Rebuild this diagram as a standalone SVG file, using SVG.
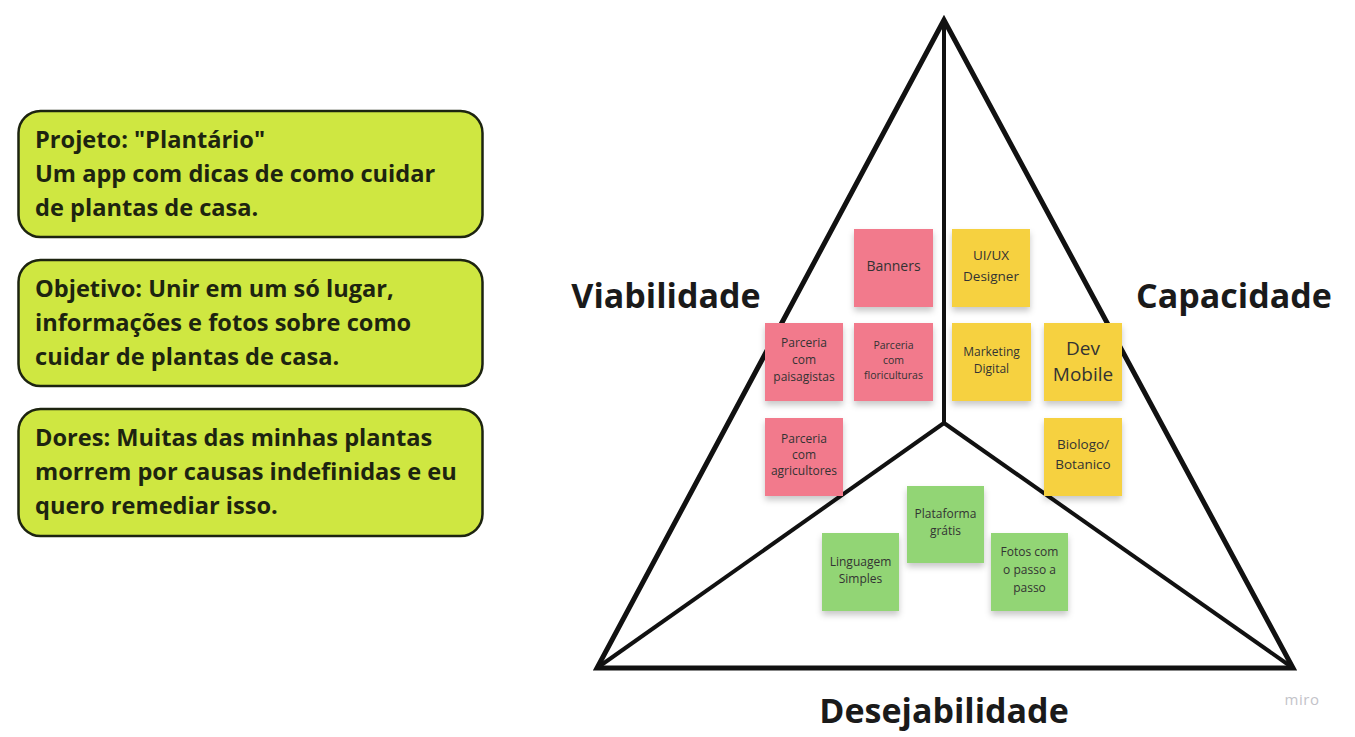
<svg xmlns="http://www.w3.org/2000/svg" width="1355" height="737" viewBox="0 0 1355 737">
<defs>
<filter id="sh" x="-20%" y="-20%" width="140%" height="150%">
<feDropShadow dx="0" dy="4" stdDeviation="3" flood-color="#000" flood-opacity="0.22"/>
</filter>
<style>
.box{fill:#cfe741;stroke:#1d2410;stroke-width:2.5}
.bt{font-family:"Open Sans","Liberation Sans",sans-serif;font-weight:700;font-size:23.6px;fill:#1d2410}
.lbl{font-family:"Open Sans","Liberation Sans",sans-serif;font-weight:700;font-size:34px;fill:#1a1a1a;text-anchor:middle}
.st{filter:url(#sh)}
.pk{fill:#f27a8c}
.yl{fill:#f6d13f}
.gr{fill:#92d574}
.nt{font-family:"Open Sans","Liberation Sans",sans-serif;fill:#333;text-anchor:middle}
.ln{stroke:#111;fill:none;stroke-linejoin:miter}
</style>
</defs>
<rect width="1355" height="737" fill="#fff"/>
<g id="connectors">
<polygon class="ln" points="944,20 597,668 1293,668" stroke-width="5"/>
<line class="ln" x1="944" y1="20" x2="944" y2="423" stroke-width="4"/>
<line class="ln" x1="944" y1="423" x2="597" y2="668" stroke-width="4"/>
<line class="ln" x1="944" y1="423" x2="1293" y2="668" stroke-width="4"/>
</g>
<g id="box-projeto">
<rect class="box" x="18.5" y="111" width="464" height="126" rx="22"/>
<text class="bt" x="35" y="148">Projeto: "Plantário"</text>
<text class="bt" x="35" y="182">Um app com dicas de como cuidar</text>
<text class="bt" x="35" y="216">de plantas de casa.</text>
</g>
<g id="box-objetivo">
<rect class="box" x="18.5" y="260" width="464" height="126" rx="22"/>
<text class="bt" x="35" y="297">Objetivo: Unir em um só lugar,</text>
<text class="bt" x="35" y="331">informações e fotos sobre como</text>
<text class="bt" x="35" y="365">cuidar de plantas de casa.</text>
</g>
<g id="box-dores">
<rect class="box" x="18.5" y="409" width="464" height="127" rx="22"/>
<text class="bt" x="35" y="446">Dores: Muitas das minhas plantas</text>
<text class="bt" x="35" y="480">morrem por causas indefinidas e eu</text>
<text class="bt" x="35" y="514">quero remediar isso.</text>
</g>
<g id="label-viabilidade"><text class="lbl" x="666" y="308">Viabilidade</text></g>
<g id="label-capacidade"><text class="lbl" x="1234" y="308">Capacidade</text></g>
<g id="label-desejabilidade"><text class="lbl" x="944" y="723">Desejabilidade</text></g>
<g id="note-banners"><rect class="st pk" x="854" y="229" width="79" height="78"/><text class="nt" x="893.5" y="271" font-size="14">Banners</text></g>
<g id="note-uiux"><rect class="st yl" x="952" y="229" width="78" height="78"/><text class="nt" x="991" y="260" font-size="13.5">UI/UX</text><text class="nt" x="991" y="281" font-size="13.5">Designer</text></g>
<g id="note-paisagistas"><rect class="st pk" x="765" y="323" width="78" height="78"/><text class="nt" x="804" y="347" font-size="12">Parceria</text><text class="nt" x="804" y="364" font-size="12">com</text><text class="nt" x="804" y="381" font-size="12">paisagistas</text></g>
<g id="note-floriculturas"><rect class="st pk" x="854" y="323" width="79" height="78"/><text class="nt" x="893.5" y="349" font-size="10.5">Parceria</text><text class="nt" x="893.5" y="364" font-size="10.5">com</text><text class="nt" x="893.5" y="379" font-size="10.5">floriculturas</text></g>
<g id="note-marketing"><rect class="st yl" x="952" y="323" width="79" height="78"/><text class="nt" x="991.5" y="356" font-size="12">Marketing</text><text class="nt" x="991.5" y="373" font-size="12">Digital</text></g>
<g id="note-devmobile"><rect class="st yl" x="1044" y="323" width="78" height="78"/><text class="nt" x="1083" y="355" font-size="19">Dev</text><text class="nt" x="1083" y="381" font-size="19">Mobile</text></g>
<g id="note-agricultores"><rect class="st pk" x="765" y="418" width="78" height="78"/><text class="nt" x="804" y="443" font-size="12">Parceria</text><text class="nt" x="804" y="459" font-size="12">com</text><text class="nt" x="804" y="475" font-size="12">agricultores</text></g>
<g id="note-biologo"><rect class="st yl" x="1044" y="418" width="78" height="78"/><text class="nt" x="1083" y="449" font-size="13.5">Biologo/</text><text class="nt" x="1083" y="469" font-size="13.5">Botanico</text></g>
<g id="note-plataforma"><rect class="st gr" x="907" y="486" width="77" height="77"/><text class="nt" x="945.5" y="518" font-size="12">Plataforma</text><text class="nt" x="945.5" y="535" font-size="12">grátis</text></g>
<g id="note-linguagem"><rect class="st gr" x="822" y="533" width="77" height="78"/><text class="nt" x="860.5" y="566" font-size="12">Linguagem</text><text class="nt" x="860.5" y="583" font-size="12">Simples</text></g>
<g id="note-fotos"><rect class="st gr" x="991" y="533" width="77" height="78"/><text class="nt" x="1029.5" y="556" font-size="12">Fotos com</text><text class="nt" x="1029.5" y="574" font-size="12">o passo a</text><text class="nt" x="1029.5" y="592" font-size="12">passo</text></g>
<g id="miro"><text x="1302" y="705" font-family="'Open Sans','Liberation Sans',sans-serif" font-size="15" fill="#c3c3c9" text-anchor="middle" letter-spacing="0.5">miro</text></g>
</svg>
